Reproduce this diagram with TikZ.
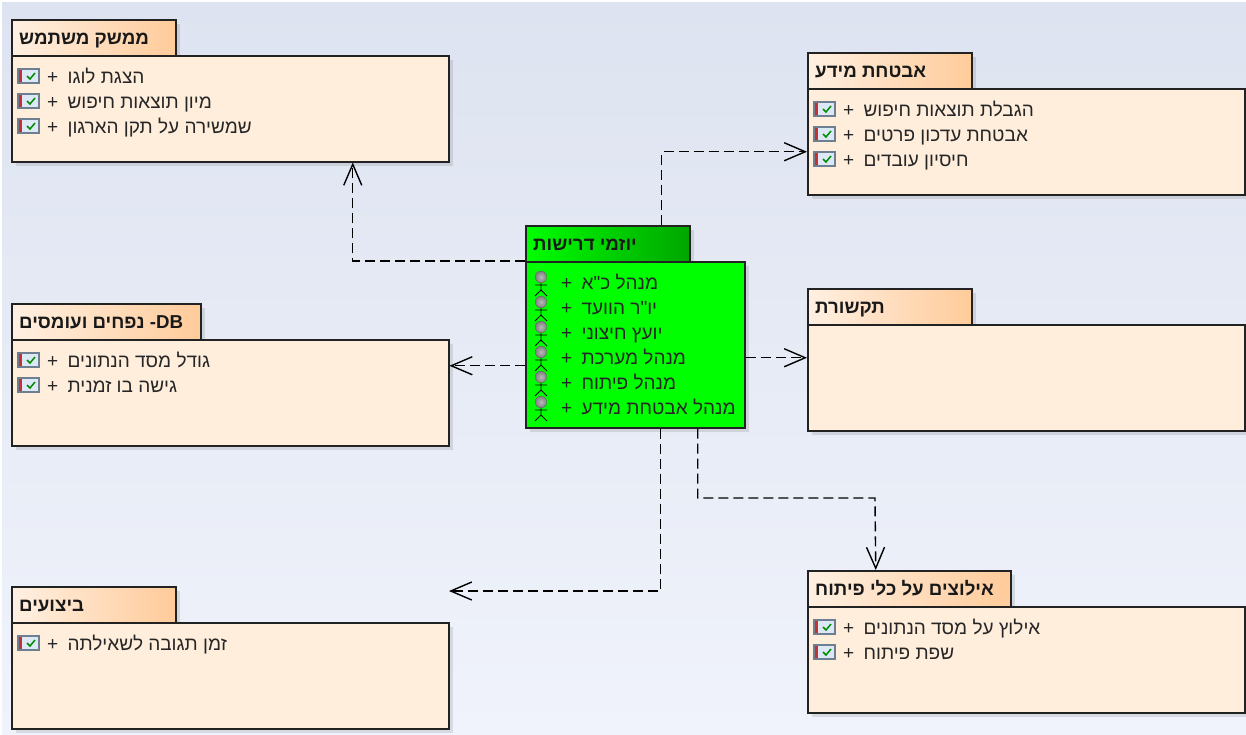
\documentclass[tikz,border=0pt]{standalone}
\usepackage{fontspec}
\usetikzlibrary{arrows.meta,positioning}
\TeXXeTstate=1
\newfontfamily\hb[Script=Hebrew]{Liberation Sans}
\definecolor{edgeC}{HTML}{222222}
\definecolor{bodyC}{HTML}{FFEEDC}
\definecolor{tabL}{HTML}{FFF0E2}
\definecolor{tabR}{HTML}{FFCB9A}
\definecolor{bgTop}{HTML}{DDE3F0}
\definecolor{bgBot}{HTML}{F0F3FB}
\definecolor{iconB}{HTML}{DCE8F6}
\definecolor{iconE}{HTML}{6E7F92}
\newcommand{\gp}{\hspace{4pt} +}
\tikzset{
  x=1pt,y=-1pt,
  boxshift/.style={xshift=-1pt,yshift=1pt},
  body/.style={boxshift,draw=edgeC,line width=1.5pt,fill=bodyC,anchor=north west,inner sep=0pt,minimum width=437pt,minimum height=106pt},
  tabbox/.style={boxshift,draw=edgeC,line width=1.5pt,left color=tabL,right color=tabR,anchor=north west,inner sep=0pt,minimum height=36pt},
  greenbody/.style={boxshift,draw=edgeC,line width=1.5pt,fill=green,anchor=north west,inner sep=0pt,minimum width=219pt,minimum height=166pt},
  greentab/.style={boxshift,draw=edgeC,line width=1.5pt,left color=green,right color=green!65!black,anchor=north west,inner sep=0pt,minimum height=36pt,minimum width=164pt},
  title/.style={anchor=base west,inner sep=0pt,font=\hb\fontsize{18.7}{20}\selectfont\bfseries,text=black!90},
  rowtext/.style={anchor=base west,inner sep=0pt,font=\hb\fontsize{19}{21}\selectfont,text=black!85},
  dep/.style={draw=black,line width=1.4pt,dash pattern=on 10pt off 5pt,-{Straight Barb[length=21pt,width=18pt,line width=1.4pt]}},
  chk/.pic={
    \fill[iconB] (-10,-7) rectangle (11,7);
    \fill[red!70!black!80!white] (-10,-7) rectangle (-6.5,7);
    \draw[iconE,line width=1.4pt] (-10,-7) rectangle (11,7);
    \draw[green!55!black,line width=1.5pt] (-1,0) -- (2,3) -- (7,-3);
  },
  actor/.pic={
    \draw[black,line width=.8pt] (0,5) -- (0,14) (-6,8) -- (6,8) (-6,19) -- (0,13) -- (6,19);
    \shade[inner color=gray!55,outer color=gray] (0,0) circle (5.8);
    \draw[black!60,line width=.5pt] (0,0) circle (5.8);
  }
}
\newcommand{\attr}[4]{\pic at (#2,#3-1) {chk}; \node[rowtext] (#1) at (#2+19,#3+6) {#4};}
\newcommand{\shad}[4]{\fill[black,opacity=.10] (#1+4,#2+4) rectangle (#3+4,#4+4);}
\newcommand{\actorrow}[4]{\pic at (541,#2-6) {actor}; \node[rowtext] (#1) at (561,#2+6) {#3};}
\begin{document}
\begin{tikzpicture}
\useasboundingbox (0,0) rectangle (1246,734);
\fill[white] (0,0) rectangle (1246,734);
\shade[top color=bgTop,bottom color=bgBot] (2,2) rectangle (1246,734);
% shadows
\shad{12}{20}{176}{56}\shad{12}{56}{449}{162}
\shad{808}{53}{972}{89}\shad{808}{89}{1245}{195}
\shad{526}{226}{690}{262}\shad{526}{262}{745}{428}
\shad{808}{289}{972}{325}\shad{808}{325}{1245}{431}
\shad{12}{304}{201}{340}\shad{12}{340}{449}{446}
\shad{12}{587}{176}{623}\shad{12}{623}{449}{729}
\shad{808}{571}{1011}{607}\shad{808}{607}{1245}{713}
% packages
\node[tabbox,minimum width=164pt] (uiTab) at (12,20) {};
\node[body] (uiBody) at (12,56) {};
\node[title] (uiTitle) at (19,44) {\beginR ממשק משתמש\endR};
\attr{ui1}{28}{77}{\beginR הצגת לוגו\gp\endR}
\attr{ui2}{28}{102}{\beginR מיון תוצאות חיפוש\gp\endR}
\attr{ui3}{28}{127}{\beginR שמשירה על תקן הארגון\gp\endR}

\node[tabbox,minimum width=164pt] (abTab) at (808,53) {};
\node[body] (abBody) at (808,89) {};
\node[title] (abTitle) at (815,77) {\beginR אבטחת מידע\endR};
\attr{ab1}{824}{110}{\beginR הגבלת תוצאות חיפוש\gp\endR}
\attr{ab2}{824}{135}{\beginR אבטחת עדכון פרטים\gp\endR}
\attr{ab3}{824}{160}{\beginR חיסיון עובדים\gp\endR}

\node[tabbox,minimum width=164pt] (comTab) at (808,289) {};
\node[body] (comBody) at (808,325) {};
\node[title] (comTitle) at (815,313) {\beginR תקשורת\endR};

\node[tabbox,minimum width=189pt] (dbTab) at (12,304) {};
\node[body] (dbBody) at (12,340) {};
\node[title] (dbTitle) at (19,328) {\beginR\beginL DB\endL- נפחים ועומסים\endR};
\attr{db1}{28}{361}{\beginR גודל מסד הנתונים\gp\endR}
\attr{db2}{28}{386}{\beginR גישה בו זמנית\gp\endR}

\node[tabbox,minimum width=164pt] (perfTab) at (12,587) {};
\node[body] (perfBody) at (12,623) {};
\node[title] (perfTitle) at (19,611) {\beginR ביצועים\endR};
\attr{perf1}{28}{644}{\beginR זמן תגובה לשאילתה\gp\endR}

\node[tabbox,minimum width=203pt] (limTab) at (808,571) {};
\node[body] (limBody) at (808,607) {};
\node[title] (limTitle) at (815,595) {\beginR אילוצים על כלי פיתוח\endR};
\attr{lim1}{824}{628}{\beginR אילוץ על מסד הנתונים\gp\endR}
\attr{lim2}{824}{653}{\beginR שפת פיתוח\gp\endR}

% requirement initiators
\node[greentab] (reqTab) at (526,226) {};
\node[greenbody] (reqBody) at (526,262) {};
\node[title] (reqTitle) at (533,250) {\beginR יוזמי דרישות\endR};
\actorrow{req1}{283}{\beginR מנהל כ"א\gp\endR}{}
\actorrow{req2}{308}{\beginR יו"ר הוועד\gp\endR}{}
\actorrow{req3}{333}{\beginR יועץ חיצוני\gp\endR}{}
\actorrow{req4}{358}{\beginR מנהל מערכת\gp\endR}{}
\actorrow{req5}{383}{\beginR מנהל פיתוח\gp\endR}{}
\actorrow{req6}{408}{\beginR מנהל אבטחת מידע\gp\endR}{}

% connectors
\coordinate (perfEnd) at (449,591);
\coordinate (limTurn) at (875,498);
\draw[dep] ([xshift=54pt]reqTab.north) |- ([yshift=-10pt]abBody.west);
\draw[dep] (reqBody.north west) -| ([xshift=122.5pt]uiBody.south);
\draw[dep] ([yshift=-21pt]reqBody.west) -- ([yshift=27pt]dbBody.east);
\draw[dep] ([yshift=-13pt]reqBody.east) -- ([yshift=20pt]comBody.west);
\draw[dep] ([xshift=25.5pt]reqBody.south) |- (perfEnd);
\draw[dep] ([xshift=62.5pt]reqBody.south) |- (limTurn) -- ([xshift=-33.5pt]limTab.north);
\end{tikzpicture}
\end{document}
